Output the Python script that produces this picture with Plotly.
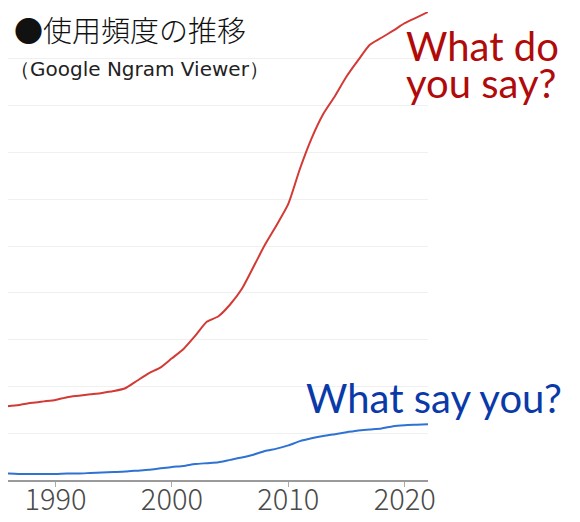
import plotly.graph_objects as go

# yearly values (Google Ngram, relative frequency)
years = list(range(1985, 2023))
what_do_you_say = [
    1.55, 1.58, 1.61, 1.65, 1.68, 1.71, 1.77, 1.80, 1.83, 1.86,
    1.90, 1.96, 2.12, 2.28, 2.40, 2.60, 2.80, 3.08, 3.38, 3.50,
    3.75, 4.08, 4.55, 5.03, 5.45, 5.90, 6.65, 7.30, 7.82, 8.20,
    8.62, 8.97, 9.30, 9.45, 9.60, 9.76, 9.88, 10.0,
]
what_say_you = [
    0.14, 0.14, 0.13, 0.13, 0.13, 0.13, 0.14, 0.14, 0.15, 0.16,
    0.17, 0.18, 0.20, 0.22, 0.25, 0.28, 0.30, 0.34, 0.36, 0.38,
    0.43, 0.48, 0.54, 0.62, 0.67, 0.74, 0.83, 0.89, 0.94, 0.98,
    1.02, 1.06, 1.08, 1.10, 1.15, 1.17, 1.18, 1.19,
]
tick_years = [1990, 2000, 2010, 2020]

font_jp = "Noto Sans CJK JP"
font_en = "Lato"

fig = go.Figure()
fig.add_trace(go.Scatter(
    x=years, y=what_do_you_say, mode="lines",
    line=dict(color="#d33a35", width=2, shape="spline", smoothing=0.6),
    hoverinfo="skip",
))
fig.add_trace(go.Scatter(
    x=years, y=what_say_you, mode="lines",
    line=dict(color="#2e73d3", width=2, shape="spline", smoothing=0.6),
    hoverinfo="skip",
))

# labels next to the lines
lbl = dict(xref="paper", yref="paper", xanchor="left", yanchor="middle", showarrow=False)
fig.add_annotation(text="What do", x=0.9425, y=0.927,
                   font=dict(family=font_en, size=40, color="#b00a0a"), **lbl)
fig.add_annotation(text="you say?", x=0.9425, y=0.849,
                   font=dict(family=font_en, size=40, color="#b00a0a"), **lbl)
fig.add_annotation(text="What say you?", x=0.7045, y=0.176,
                   font=dict(family=font_en, size=40, color="#0a3aa8"), **lbl)

# title
fig.add_annotation(text="●使用頻度の推移", xref="paper", yref="paper", x=0.01, y=1.0128,
                   xanchor="left", yanchor="top", showarrow=False,
                   font=dict(family=font_jp, size=29, color="#111111", weight=300))
fig.add_annotation(text="（Google Ngram Viewer）", xref="paper", yref="paper", x=0.0, y=0.908,
                   xanchor="left", yanchor="top", showarrow=False,
                   font=dict(family="DejaVu Sans", size=20, color="#222222"))

fig.update_layout(
    width=580, height=522,
    margin=dict(l=0, r=160, t=4, b=50),
    paper_bgcolor="white", plot_bgcolor="white",
    showlegend=False,
    xaxis=dict(
        range=[1985.92, 2022], tickvals=tick_years,
        showgrid=False, zeroline=False,
        showline=True, linecolor="#9a9a9a", linewidth=2,
        ticks="outside", ticklen=5, tickcolor="#aaaaaa",
        ticklabelstandoff=-12,
        tickfont=dict(family=font_jp, size=29, color="#4a4a4a", weight=300),
    ),
    yaxis=dict(
        range=[0, 10], dtick=1, showticklabels=False,
        showgrid=True, gridcolor="#f0f0f0", gridwidth=1,
        zeroline=False,
    ),
)

fig.write_html("out.html")
